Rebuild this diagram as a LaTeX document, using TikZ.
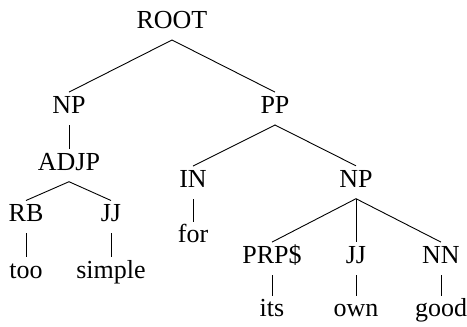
\documentclass[tikz,border=0pt]{standalone}
\usepackage{fontspec}
\setmainfont{Liberation Serif}
\newfontfamily\tmsfont{Liberation Serif}
\begin{document}
\begin{tikzpicture}[x=1pt,y=-1pt,
  lbl/.style={anchor=base,inner xsep=0pt,inner ysep=5pt,text height=16pt,text depth=6.5pt,font=\tmsfont\fontsize{26}{30}\selectfont},
  edge/.style={line width=0.9pt,black}]
\useasboundingbox (0,0) rectangle (467,327);
\node[lbl] (root) at (172,28.3) {ROOT};
\node[lbl] (np1) at (69,113.3) {NP};
\node[lbl] (pp) at (275,113.3) {PP};
\node[lbl] (adjp) at (69,170) {ADJP};
\node[lbl] (rb) at (26,221.7) {RB};
\node[lbl] (jj1) at (111,221.7) {JJ};
\node[lbl] (too) at (26,278.3) {too};
\node[lbl] (simple) at (111,278.3) {simple};
\node[lbl] (in) at (193,187.3) {IN};
\node[lbl] (for) at (193,242.7) {for};
\node[lbl] (np2) at (356,187) {NP};
\node[lbl] (prp) at (272,263.3) {PRP\$};
\node[lbl] (jj2) at (356,263.3) {JJ};
\node[lbl] (nn) at (441,263.3) {NN};
\node[lbl] (its) at (272,316.7) {its};
\node[lbl] (own) at (356,316.7) {own};
\node[lbl] (good) at (441,316.7) {good};
\draw[edge] (np1.north) -- (root.south) -- (pp.north);
\draw[edge] (np1.south) -- (adjp.north);
\draw[edge] (rb.north) -- (adjp.south) -- (jj1.north);
\draw[edge] (rb.south) -- (too.north);
\draw[edge] (jj1.south) -- (simple.north);
\draw[edge] (in.north) -- (pp.south) -- (np2.north);
\draw[edge] (in.south) -- (for.north);
\draw[edge] (prp.north) -- (np2.south) -- (nn.north);
\draw[edge] (np2.south) -- (jj2.north);
\draw[edge] (prp.south) -- (its.north);
\draw[edge] (jj2.south) -- (own.north);
\draw[edge] (nn.south) -- (good.north);
\end{tikzpicture}
\end{document}
